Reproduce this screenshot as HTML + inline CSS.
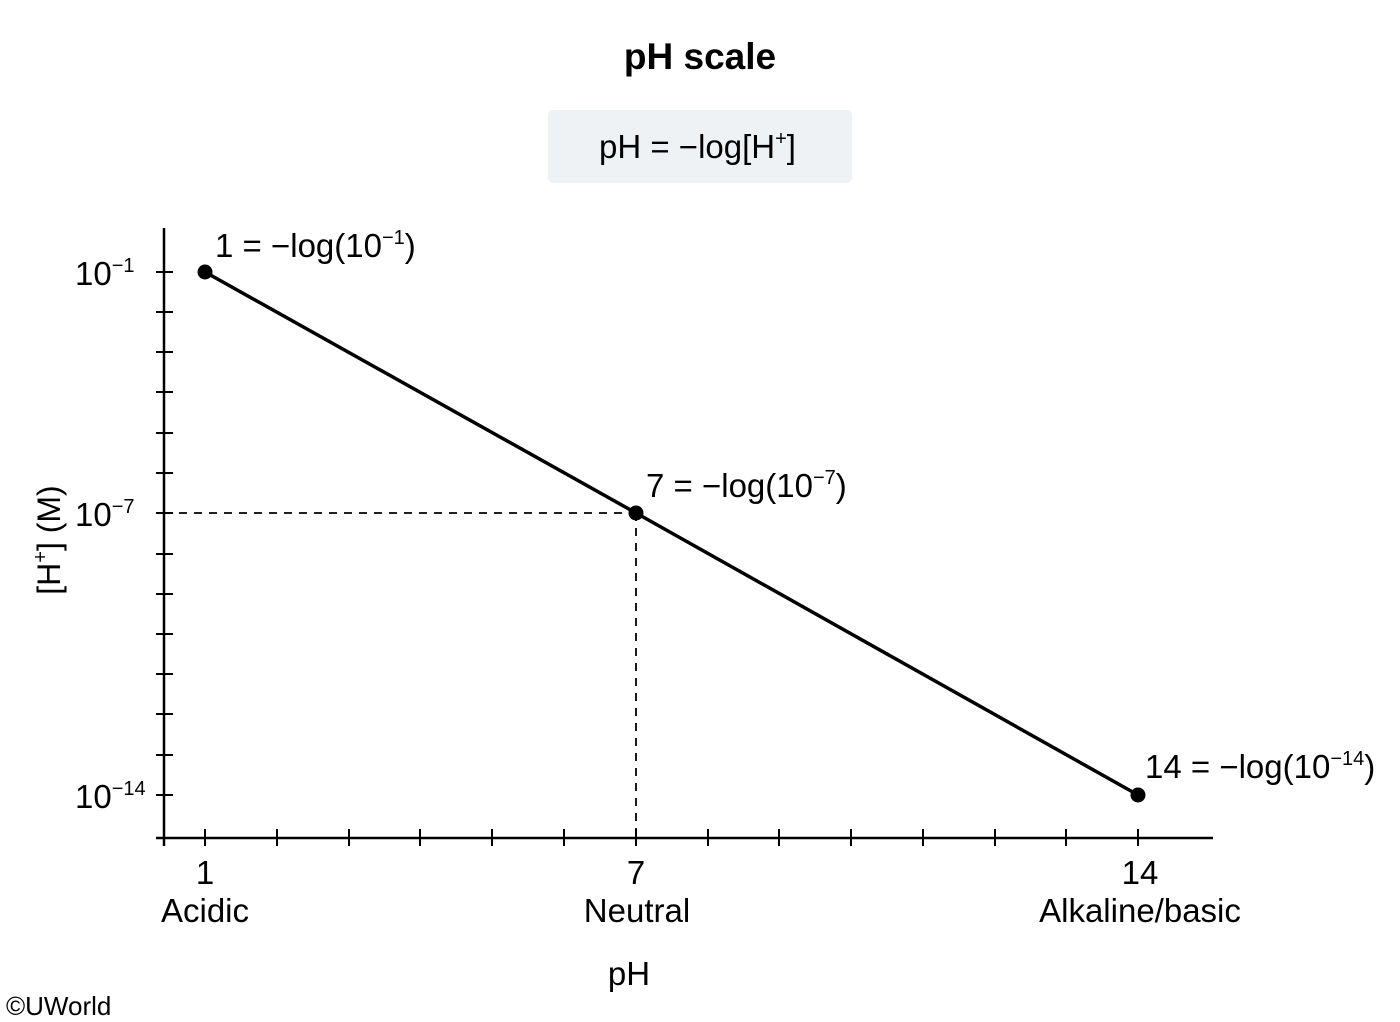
<!DOCTYPE html>
<html><head><meta charset="utf-8"><style>
html,body{margin:0;padding:0;background:#fff;}
svg{display:block;font-family:"Liberation Sans",Arial,sans-serif;}
</style></head><body>
<svg width="1400" height="1022" viewBox="0 0 1400 1022" xmlns="http://www.w3.org/2000/svg">
<text x="700" y="69" text-anchor="middle" font-size="37" font-weight="bold" fill="#000">pH scale</text>
<rect x="548" y="110" width="304" height="73" rx="5" fill="#eff2f5"/>
<text x="599" y="158" font-size="33" fill="#000">pH = −log[H<tspan font-size="20" dy="-13">+</tspan><tspan dy="13">]</tspan></text>
<g stroke="#000" stroke-width="2.5" fill="none">
<line x1="164" y1="228" x2="164" y2="846"/>
<line x1="156" y1="838" x2="1213" y2="838"/>
</g>
<g stroke="#000" stroke-width="2">
<line x1="156" y1="272" x2="173" y2="272"/><line x1="156" y1="312" x2="173" y2="312"/><line x1="156" y1="352" x2="173" y2="352"/><line x1="156" y1="392" x2="173" y2="392"/><line x1="156" y1="433" x2="173" y2="433"/><line x1="156" y1="473" x2="173" y2="473"/><line x1="156" y1="513" x2="173" y2="513"/><line x1="156" y1="554" x2="173" y2="554"/><line x1="156" y1="594" x2="173" y2="594"/><line x1="156" y1="634" x2="173" y2="634"/><line x1="156" y1="674" x2="173" y2="674"/><line x1="156" y1="714" x2="173" y2="714"/><line x1="156" y1="755" x2="173" y2="755"/><line x1="156" y1="795" x2="173" y2="795"/>
<line x1="205" y1="829" x2="205" y2="846"/><line x1="277" y1="829" x2="277" y2="846"/><line x1="349" y1="829" x2="349" y2="846"/><line x1="420" y1="829" x2="420" y2="846"/><line x1="492" y1="829" x2="492" y2="846"/><line x1="564" y1="829" x2="564" y2="846"/><line x1="636" y1="829" x2="636" y2="846"/><line x1="708" y1="829" x2="708" y2="846"/><line x1="779" y1="829" x2="779" y2="846"/><line x1="851" y1="829" x2="851" y2="846"/><line x1="923" y1="829" x2="923" y2="846"/><line x1="995" y1="829" x2="995" y2="846"/><line x1="1066" y1="829" x2="1066" y2="846"/><line x1="1138" y1="829" x2="1138" y2="846"/>
</g>
<g stroke="#000" stroke-width="1.8" stroke-dasharray="8,7">
<line x1="164" y1="513" x2="636" y2="513"/>
<line x1="636" y1="513" x2="636" y2="838"/>
</g>
<polyline points="205,272 636,513 1138,795" fill="none" stroke="#000" stroke-width="3.5"/>
<circle cx="205" cy="272" r="7.5" fill="#000"/>
<circle cx="636" cy="513" r="7.5" fill="#000"/>
<circle cx="1138" cy="795" r="7.5" fill="#000"/>
<g font-size="33" fill="#000">
<text x="215" y="257">1 = −log(10<tspan font-size="20" dy="-13">−1</tspan><tspan dy="13">)</tspan></text>
<text x="646" y="497">7 = −log(10<tspan font-size="20" dy="-13">−7</tspan><tspan dy="13">)</tspan></text>
<text x="1145" y="778">14 = −log(10<tspan font-size="20" dy="-13">−14</tspan><tspan dy="13">)</tspan></text>
<text x="75" y="285">10<tspan font-size="20" dy="-13">−1</tspan></text>
<text x="75" y="526">10<tspan font-size="20" dy="-13">−7</tspan></text>
<text x="75" y="808">10<tspan font-size="20" dy="-13">−14</tspan></text>
</g>
<g font-size="33" fill="#000" text-anchor="middle">
<text x="205" y="884">1</text>
<text x="636" y="884">7</text>
<text x="1140" y="884">14</text>
<text x="205" y="922">Acidic</text>
<text x="637" y="922">Neutral</text>
<text x="1140" y="922">Alkaline/basic</text>
<text x="629" y="985">pH</text>
</g>
<text transform="translate(60,540) rotate(-90)" font-size="32" fill="#000" text-anchor="middle">[H<tspan font-size="20" dy="-13">+</tspan><tspan dy="13">] (M)</tspan></text>
<text x="6" y="1015" font-size="26" fill="#000">©UWorld</text>
</svg>
</body></html>
